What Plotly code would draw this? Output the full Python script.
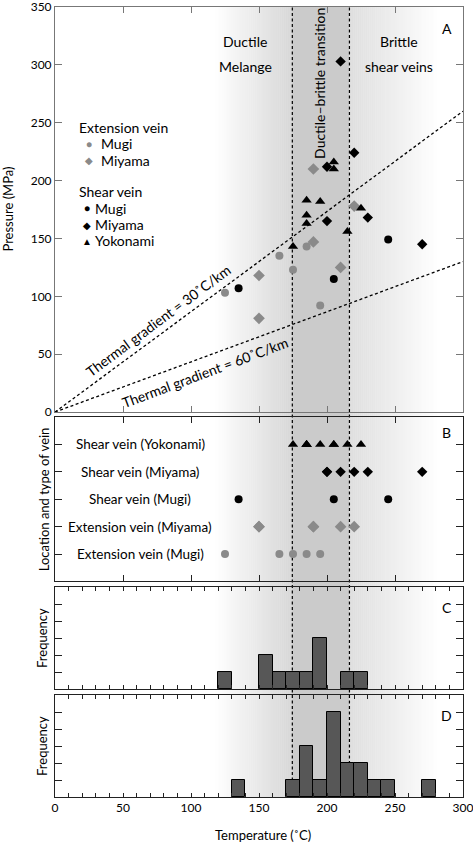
import numpy as np
import plotly.graph_objects as go

# ---------------- data ----------------
ext_mugi_T = [125, 165, 175, 185, 195]
ext_mugi_P = [103, 135, 123, 143, 92]
ext_miyama_T = [150, 150, 190, 190, 210, 220]
ext_miyama_P = [118, 81, 147, 210, 125, 178]
shear_mugi_T = [135, 205, 245]
shear_mugi_P = [107, 115, 149]
shear_miyama_T = [200, 200, 210, 220, 230, 270]
shear_miyama_P = [212, 165, 303, 224, 168, 145]
shear_yoko_T = [175, 185, 185, 185, 195, 205, 205, 215, 225]
shear_yoko_P = [143, 183, 170, 163, 182, 216, 210, 156, 176]

vein_categories = ["Extension vein (Mugi)", "Extension vein (Miyama)", "Shear vein (Mugi)",
                   "Shear vein (Miyama)", "Shear vein (Yokonami)"]

gradients = [30, 60]          # thermal gradients, deg C / km
mpa_per_km = 26.0             # lithostatic pressure per km depth
transition_T = [174.5, 216.5]  # ductile-brittle transition limits
shade_left = [118, 175]
shade_right = [216.5, 282]
bin_size = 10
x_ticks_major = [0, 50, 100, 150, 200, 250, 300]

FONT = "Lato"
GRAY = "#8a8a8a"
DASH = "3px,2.5px"

# panel domains (paper fractions)
dom_A = [0.4873, 1.0]
dom_B = [0.2728, 0.4810]
dom_C = [0.1367, 0.2658]
dom_D = [0.0, 0.1291]

fig = go.Figure()

# ---------------- panel A ----------------
T_line = np.array([0, 300])
for g in gradients:
    fig.add_trace(go.Scatter(x=T_line, y=T_line / g * mpa_per_km, mode="lines",
                             line=dict(color="black", width=1.3, dash=DASH),
                             xaxis="x", yaxis="y", showlegend=False, hoverinfo="skip"))

series = [
    (ext_mugi_T, ext_mugi_P, "circle", GRAY, 8),
    (ext_miyama_T, ext_miyama_P, "diamond", GRAY, 9),
    (shear_mugi_T, shear_mugi_P, "circle", "black", 8),
    (shear_miyama_T, shear_miyama_P, "diamond", "black", 8),
    (shear_yoko_T, shear_yoko_P, "triangle-up", "black", 9),
]
for T, P, sym, col, sz in series:
    fig.add_trace(go.Scatter(x=T, y=P, mode="markers",
                             marker=dict(symbol=sym, color=col, size=sz, line=dict(width=0)),
                             xaxis="x", yaxis="y", showlegend=False))

# ---------------- panel B ----------------
for i, (T, P, sym, col, sz) in enumerate(series):
    fig.add_trace(go.Scatter(x=T, y=[i + 1] * len(T), mode="markers",
                             marker=dict(symbol=sym, color=col, size=sz, line=dict(width=0)),
                             xaxis="x2", yaxis="y2", showlegend=False))

# ---------------- panels C and D ----------------
ext_all = ext_mugi_T + ext_miyama_T
shear_all = shear_mugi_T + shear_miyama_T + shear_yoko_T
for vals, xa, ya in [(ext_all, "x3", "y3"), (shear_all, "x4", "y4")]:
    fig.add_trace(go.Histogram(x=vals, xbins=dict(start=0, end=300, size=bin_size),
                               marker=dict(color="#575757", line=dict(color="black", width=1)),
                               xaxis=xa, yaxis=ya, showlegend=False))

# ---------------- shading ----------------
shapes = []
def ramp(a, b, c0, c1, n):
    edges = np.linspace(a, b, n + 1)
    for k in range(n):
        t = (k + 0.5) / n
        c = int(round(c0 + (c1 - c0) * t))
        shapes.append(dict(type="rect", xref="x", yref="paper", x0=edges[k], x1=edges[k + 1] + 0.3,
                           y0=0, y1=1, fillcolor=f"rgb({c},{c},{c})", line=dict(width=0), layer="below"))

ramp(shade_left[0], shade_left[1], 255, 214, 40)
shapes.append(dict(type="rect", xref="x", yref="paper", x0=transition_T[0], x1=transition_T[1],
                   y0=0, y1=1, fillcolor="rgb(203,203,203)", line=dict(width=0), layer="below"))
ramp(shade_right[0], shade_right[1], 222, 255, 45)
for t in transition_T:
    shapes.append(dict(type="line", xref="x", yref="paper", x0=t, x1=t, y0=0, y1=1,
                       line=dict(color="black", width=1.2, dash=DASH), layer="below"))

# ---------------- annotations ----------------
ann = []
def txt(x, y, s, size=14, xref="x", yref="y", **kw):
    d = dict(x=x, y=y, text=s, xref=xref, yref=yref, showarrow=False,
             xanchor="center", yanchor="middle",
             font=dict(family=FONT, size=size, color="black"))
    d.update(kw)
    ann.append(d)

txt(140, 320.5, "Ductile")
txt(140, 298.3, "Melange")
txt(253, 320.5, "Brittle")
txt(253, 298.3, "shear veins")
txt(194.5, 284, "Ductile\u2013brittle transition", textangle=-90)
txt(288, 331, "A", size=14)
txt(75.7, 79.5, "Thermal gradient = 30\u02daC/km", textangle=-36.7)
txt(110, 34.5, "Thermal gradient = 60\u02daC/km", textangle=-20.5)

# legend built from text
txt(16.2, 246, "Extension vein", size=14, xanchor="left")
txt(25, 232, "\u25cf", size=10, font_color=GRAY)
txt(32.4, 232, "Mugi", size=14, xanchor="left")
txt(25, 217.5, "\u25c6", size=10, font_color=GRAY)
txt(32.4, 217.5, "Miyama", size=14, xanchor="left")
txt(16.2, 190.5, "Shear vein", size=14, xanchor="left")
for yy, glyph, name in [(176, "\u25cf", "Mugi"), (162, "\u25c6", "Miyama"), (148, "\u25b2", "Yokonami")]:
    txt(23.5, yy, glyph, size=10)
    txt(27.9, yy, name, size=14, xanchor="left")

for i, name in enumerate(vein_categories):
    txt(62.5, i + 1, name, size=13.5, xref="x2", yref="y2")
txt(288, 5.45, "B", xref="x2", yref="y2")
txt(288, 4.8, "C", xref="x3", yref="y3")
txt(288, 4.8, "D", xref="x4", yref="y4")

# axis titles
txt(-0.1176, sum(dom_A) / 2, "Pressure (MPa)", size=13, xref="paper", yref="paper", textangle=-90)
txt(-0.027, sum(dom_B) / 2, "Location and type of vein", size=13, xref="paper", yref="paper", textangle=-90)
txt(-0.032, sum(dom_C) / 2, "Frequency", size=13, xref="paper", yref="paper", textangle=-90)
txt(-0.032, sum(dom_D) / 2, "Frequency", size=13, xref="paper", yref="paper", textangle=-90)
txt(0.51, -0.0481, "Temperature (\u02daC)", size=13, xref="paper", yref="paper")

# ---------------- axes ----------------
def xax(anchor, linecol, labels=False, minor=False):
    d = dict(range=[0, 300], domain=[0, 1], anchor=anchor, showgrid=False, zeroline=False,
             showline=True, linecolor=linecol, linewidth=1, mirror="ticks", automargin=False,
             ticks="inside", ticklen=6, tickcolor=linecol, tickwidth=1,
             ticklabeloverflow="allow",
             tickfont=dict(family=FONT, size=12, color="black"))
    if minor:
        vals = list(range(0, 301, bin_size))
        d.update(tickvals=vals, ticklen=4,
                 ticktext=[str(v) if v in x_ticks_major and labels else "" for v in vals],
                 showticklabels=labels)
    else:
        d.update(tickvals=x_ticks_major, showticklabels=labels)
    return d

def yax(anchor, domain, rng, linecol, tickvals, labels=False):
    return dict(range=rng, domain=domain, anchor=anchor, showgrid=False, zeroline=False,
                showline=True, linecolor=linecol, linewidth=1, mirror="ticks", automargin=False,
                ticks="inside", ticklen=7, tickcolor=linecol, tickwidth=1,
                tickvals=tickvals, showticklabels=labels, ticklabeloverflow="allow",
                tickfont=dict(family=FONT, size=12, color="black"))

fig.update_layout(
    width=473, height=842,
    margin=dict(l=55, r=10, t=7, b=45),
    paper_bgcolor="white", plot_bgcolor="rgba(0,0,0,0)",
    bargap=0, showlegend=False,
    font=dict(family=FONT, size=12, color="black"),
    xaxis=xax("y", "#777"),
    yaxis=yax("x", dom_A, [0, 350], "#777", list(range(0, 351, 50)), labels=True),
    xaxis2=xax("y2", "#222"),
    yaxis2=yax("x2", dom_B, [0, 6], "#222", [1, 2, 3, 4, 5]),
    xaxis3=xax("y3", "#222", minor=True),
    yaxis3=yax("x3", dom_C, [0, 6], "#222", [1, 2, 3, 4, 5]),
    xaxis4=xax("y4", "#222", labels=True, minor=True),
    yaxis4=yax("x4", dom_D, [0, 6], "#222", [1, 2, 3, 4, 5]),
    shapes=shapes, annotations=ann,
)

fig.write_html("out.html", config={"displayModeBar": False},
               post_script="document.body.style.margin='0';document.body.style.overflow='hidden';")
